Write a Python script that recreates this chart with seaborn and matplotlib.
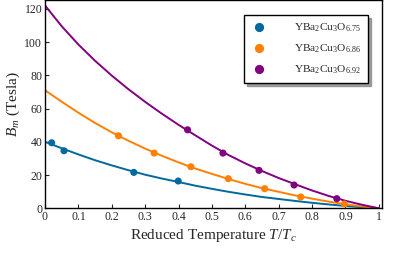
import numpy as np
import pandas as pd
import seaborn as sns
import matplotlib
matplotlib.use("Agg")
import matplotlib.pyplot as plt

# measured points (reduced temperature, Bm in Tesla)
t_675 = [0.02, 0.057, 0.266, 0.399]
b_675 = [39.4, 34.6, 21.6, 16.4]
t_686 = [0.22, 0.327, 0.437, 0.549, 0.658, 0.766, 0.897]
b_686 = [43.6, 33.2, 25.0, 17.8, 11.8, 6.8, 2.6]
t_692 = [0.427, 0.533, 0.641, 0.746, 0.874]
b_692 = [47.2, 33.2, 22.8, 14.0, 5.8]

# fitted curves
t_fit = [0, 0.05, 0.1, 0.15, 0.2, 0.25, 0.3, 0.35, 0.4, 0.45, 0.5,
         0.55, 0.6, 0.65, 0.7, 0.75, 0.8, 0.85, 0.9, 0.95, 1.0]
fit_675 = [40, 36.1, 32.4, 28.9, 25.8, 22.9, 20.2, 17.9, 15.8, 13.6, 11.7,
           9.9, 8.3, 6.8, 5.6, 4.4, 3.3, 2.3, 1.4, 0.6, 0]
fit_686 = [71, 64.1, 57.5, 51.3, 45.7, 40.6, 35.9, 31.6, 27.6, 23.9, 20.7,
           17.6, 14.7, 12.1, 9.9, 7.7, 5.8, 4.0, 2.4, 1.1, 0]
fit_692 = [122, 109.5, 98.5, 88.7, 79.8, 71.6, 64.0, 56.9, 50.2, 43.9, 37.7,
           32.0, 27.0, 22.4, 18.2, 14.4, 10.7, 7.4, 4.5, 2.1, 0]

labels = [r"YBa$_2$Cu$_3$O$_{6.75}$", r"YBa$_2$Cu$_3$O$_{6.86}$", r"YBa$_2$Cu$_3$O$_{6.92}$"]
colors = ["#00699d", "#ff8000", "#800080"]

pts = pd.concat([
    pd.DataFrame({"t": t_675, "b": b_675, "s": labels[0]}),
    pd.DataFrame({"t": t_686, "b": b_686, "s": labels[1]}),
    pd.DataFrame({"t": t_692, "b": b_692, "s": labels[2]}),
])
fits = pd.concat([
    pd.DataFrame({"t": t_fit, "b": fit_675, "s": labels[0]}),
    pd.DataFrame({"t": t_fit, "b": fit_686, "s": labels[1]}),
    pd.DataFrame({"t": t_fit, "b": fit_692, "s": labels[2]}),
])

sns.set_style("ticks")
plt.rcParams["font.family"] = ["Liberation Serif", "DejaVu Serif"]
plt.rcParams["mathtext.fontset"] = "custom"
plt.rcParams["mathtext.rm"] = "Liberation Serif"
plt.rcParams["mathtext.it"] = "Liberation Serif:italic"

fig = plt.figure(figsize=(4.15, 2.71), dpi=100)
ax = fig.add_axes([0.1084, 0.2314, 0.811, 0.767])

sns.lineplot(data=fits, x="t", y="b", hue="s", palette=colors, lw=1.4,
             legend=False, ax=ax)
sns.scatterplot(data=pts, x="t", y="b", hue="s", palette=colors, s=26,
                edgecolor="none", zorder=3, ax=ax)

ax.set_xlim(0, 1.008)
ax.set_ylim(0, 125)
ax.set_xticks(np.arange(0, 1.01, 0.1))
ax.set_xticklabels(["0", "0.1", "0.2", "0.3", "0.4", "0.5", "0.6", "0.7", "0.8", "0.9", "1"])
ax.set_yticks([0, 20, 40, 60, 80, 100, 120])
ax.tick_params(direction="in", labelsize=8.5, length=3, width=0.8, pad=2)
for sp in ax.spines.values():
    sp.set_linewidth(1.0)
    sp.set_color("black")

ax.set_xlabel(r"Reduced Temperature $T/T_c$", fontsize=11, labelpad=3)
ax.set_ylabel(r"$B_m$ (Tesla)", fontsize=11, labelpad=2)

ax.legend(loc="upper right", bbox_to_anchor=(0.96, 0.93), borderaxespad=0,
          fontsize=8.2, frameon=True, shadow={"color": "0.6", "alpha": 1},
          fancybox=False, edgecolor="black",
          markerscale=1.3, handlelength=1.3, handletextpad=2.5,
          borderpad=0.6, labelspacing=0.75, title=None)

plt.savefig("out.png", dpi=100)
